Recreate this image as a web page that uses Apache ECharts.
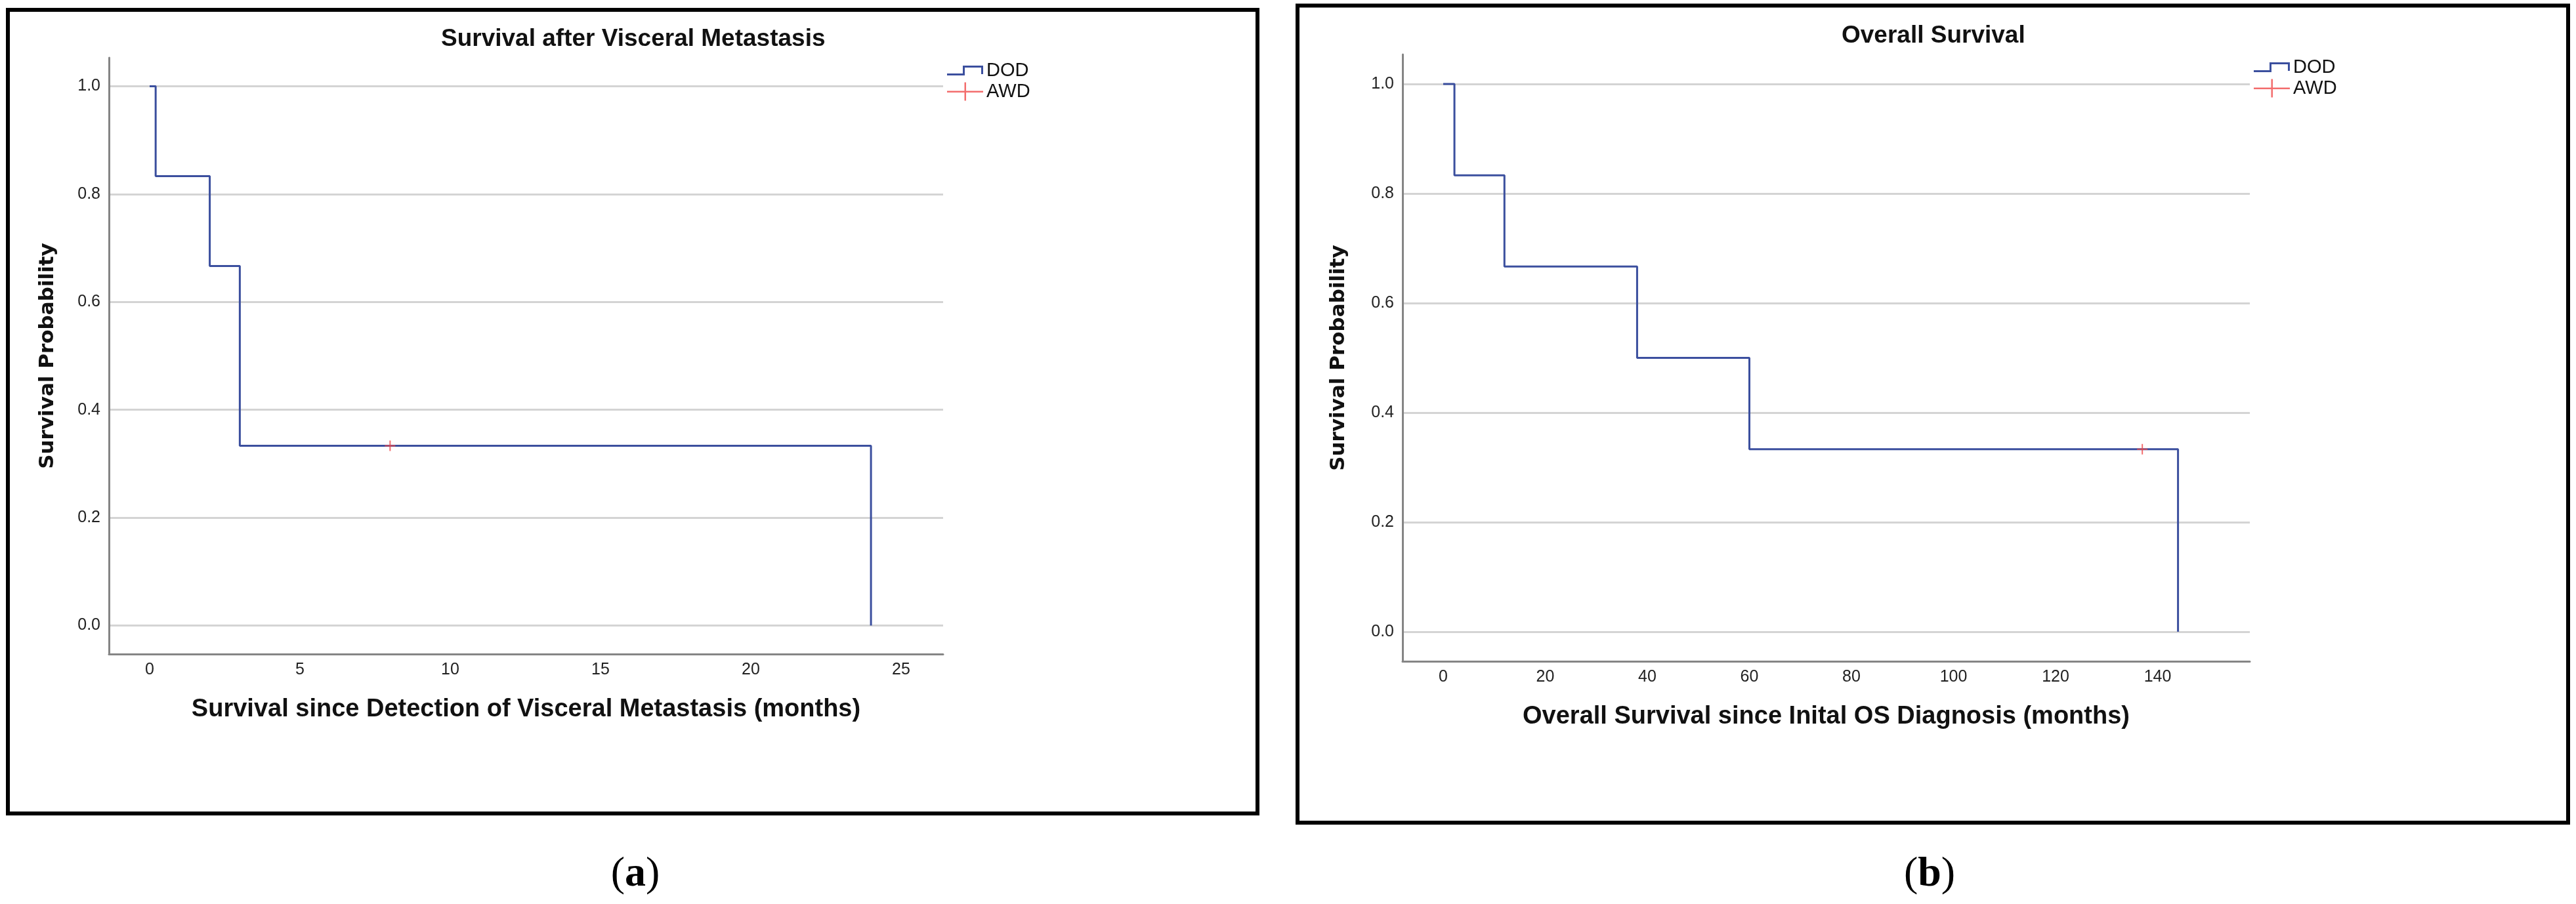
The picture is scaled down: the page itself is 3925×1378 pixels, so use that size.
<!DOCTYPE html>
<html><head><meta charset="utf-8">
<script src="https://cdn.jsdelivr.net/npm/echarts@6/dist/echarts.min.js"></script>
<style>html,body{margin:0;padding:0;background:#fff}#c{width:3925px;height:1378px}</style>
</head><body><div id="c"></div>
<script>
// ---- data ----
const timesA = [0, 0.2, 2, 3, 24];
const survA = [1, 0.8333, 0.6667, 0.3333, 0];
const censorTimesA = [8];
const censorSurvA = [0.3333];

const timesB = [0, 2.2, 12, 38, 60, 144];
const survB = [1, 0.8333, 0.6667, 0.5, 0.3333, 0];
const censorTimesB = [137];
const censorSurvB = [0.3333];

const xTicksA = [0, 5, 10, 15, 20, 25];
const xTicksB = [0, 20, 40, 60, 80, 100, 120, 140];
const yTicks = [0, 0.2, 0.4, 0.6, 0.8, 1.0];

const titles = ['Survival after Visceral Metastasis', 'Overall Survival'];
const xNames = ['Survival since Detection of Visceral Metastasis (months)', 'Overall Survival since Inital OS Diagnosis (months)'];
const yName = 'Survival Probability';
const groupNames = ['DOD', 'AWD'];
const panelLabels = ['a', 'b'];

// ---- styling ----
const BLUE = '#3b4f9e';
const RED = '#f04848';
const GRID = '#d4d4d4';
const AXIS = '#858585';
const FONT = 'Liberation Sans, Arial, sans-serif';

const stepIcon = 'path://M0,12H27V15H0Z M24,0H27V15H24Z M24,0H55V3H24Z M52,0H55V13H52Z';
const legendCross = 'path://M0,13H55V15.5H0Z M26.5,0H29V28H26.5Z';
const plotCross = 'path://M0,7H16V9H0Z M7,0H9V16H7Z';

const zip = (a, b) => a.map((v, i) => [v, b[i]]);

const panels = [
  { grid: { left: 166, top: 88, width: 1271, height: 909 }, xMin: -1.354, xMax: 26.40, yMin: -0.053, yMax: 1.053,
    xTicks: xTicksA, line: zip(timesA, survA), cens: zip(censorTimesA, censorSurvA),
    titleLeft: 672, titleTop: 38, yGap: 78, xGap: 66, legLeft: 1443, legTop: 93, labelX: 968,
    frame: { x: 12, y: 15, width: 1904, height: 1225 } },
  { grid: { left: 2137, top: 83, width: 1291, height: 925 }, xMin: -7.97, xMax: 158.07, yMin: -0.054, yMax: 1.054,
    xTicks: xTicksB, line: zip(timesB, survB), cens: zip(censorTimesB, censorSurvB),
    titleLeft: 2806, titleTop: 33, yGap: 82, xGap: 66, legLeft: 3434, legTop: 88, labelX: 2940,
    frame: { x: 1977, y: 8.5, width: 1936, height: 1245.5 } }
];

const option = {
  animation: false,
  backgroundColor: '#fff',
  textStyle: { fontFamily: FONT },
  title: panels.map((p, i) => ({
    text: titles[i], left: p.titleLeft, top: p.titleTop, padding: 0,
    textStyle: { fontFamily: FONT, fontSize: 37, fontWeight: 'bold', color: '#111', lineHeight: 44 }
  })),
  grid: panels.map(p => Object.assign({ containLabel: false }, p.grid)),
  xAxis: panels.map((p, i) => ({
    type: 'value', gridIndex: i, min: p.xMin, max: p.xMax,
    axisLine: { show: true, onZero: false, lineStyle: { color: AXIS, width: 3 } },
    axisTick: { show: false, customValues: p.xTicks },
    splitLine: { show: false },
    axisLabel: { customValues: p.xTicks, fontSize: 25, color: '#222', margin: 12, fontFamily: FONT },
    name: xNames[i], nameLocation: 'middle', nameGap: p.xGap,
    nameTextStyle: { fontFamily: FONT, fontSize: 38, fontWeight: 'bold', color: '#111' }
  })),
  yAxis: panels.map((p, i) => ({
    type: 'value', gridIndex: i, min: p.yMin, max: p.yMax,
    axisLine: { show: true, onZero: false, lineStyle: { color: AXIS, width: 3 } },
    axisTick: { show: false, customValues: yTicks },
    splitLine: { show: true, lineStyle: { color: GRID, width: 3 } },
    axisLabel: { customValues: yTicks, fontSize: 25, color: '#222', margin: 13, fontFamily: FONT,
      formatter: v => v.toFixed(1) },
    name: yName, nameLocation: 'middle', nameGap: p.yGap, nameRotate: 90,
    nameTextStyle: { fontFamily: 'DejaVu Sans, sans-serif', fontSize: 31, fontWeight: 'bold', color: '#111' }
  })),
  legend: [].concat(...panels.map(p => [
    { data: [groupNames[0]], left: p.legLeft, top: p.legTop, padding: 0, itemWidth: 55, itemHeight: 15,
      icon: stepIcon, selectedMode: false, textStyle: { fontSize: 29, color: '#111', fontFamily: FONT } },
    { data: [groupNames[1]], left: p.legLeft, top: p.legTop + 32, padding: 0, itemWidth: 55, itemHeight: 28,
      icon: legendCross, selectedMode: false, textStyle: { fontSize: 29, color: '#111', fontFamily: FONT } }
  ])),
  series: [].concat(...panels.map((p, i) => [
    { type: 'line', name: groupNames[0], xAxisIndex: i, yAxisIndex: i, data: p.line, step: 'end',
      showSymbol: false, symbol: 'none', color: BLUE, itemStyle: { color: BLUE, borderWidth: 0 },
      lineStyle: { color: BLUE, width: 3 }, z: 3 },
    { type: 'scatter', name: groupNames[1], xAxisIndex: i, yAxisIndex: i, data: p.cens,
      symbol: plotCross, symbolSize: 16, color: RED, itemStyle: { color: RED, borderWidth: 0 }, z: 4 }
  ])),
  graphic: [].concat(...panels.map((p, i) => [
    { type: 'rect', shape: p.frame, style: { fill: 'none', stroke: '#000', lineWidth: 6 }, silent: true },
    { type: 'text', x: p.labelX, y: 1333, silent: true,
      style: { text: '{p|(}{b|' + panelLabels[i] + '}{p|)}', align: 'center', verticalAlign: 'middle',
        rich: { p: { fontFamily: 'Liberation Serif, serif', fontSize: 64, fill: '#000' },
                b: { fontFamily: 'Liberation Serif, serif', fontSize: 64, fontWeight: 'bold', fill: '#000' } } } }
  ]))
};

const chart = echarts.init(document.getElementById('c'), null, { renderer: 'canvas' });
chart.setOption(option);
</script>
</body></html>
